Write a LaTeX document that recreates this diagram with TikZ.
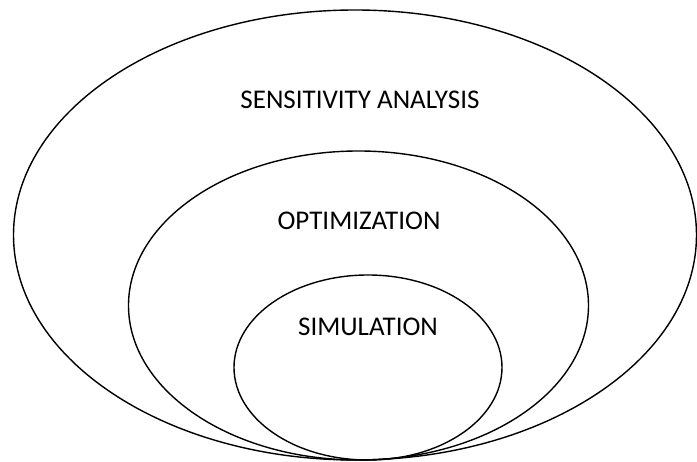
\documentclass[tikz,border=0pt]{standalone}
\usepackage{fontspec}
\setmainfont{Carlito}
\begin{document}
\begin{tikzpicture}[x=1pt,y=-1pt,
  ring/.style={draw=black,line width=1.4pt},
  lbl/.style={font=\fontsize{27}{32}\selectfont,text=black,inner sep=0pt}]
\useasboundingbox (0,0) rectangle (697,462);
\draw[ring] (355,235) ellipse [x radius=341.5, y radius=225];
\draw[ring] (358.5,305.5) ellipse [x radius=230, y radius=154.5];
\draw[ring] (368,367.5) ellipse [x radius=134, y radius=92.5];
\node[lbl] (sa) at (360,100) {SENSITIVITY ANALYSIS};
\node[lbl] (opt) at (359,221) {OPTIMIZATION};
\node[lbl] (sim) at (368,327) {SIMULATION};
\end{tikzpicture}
\end{document}
